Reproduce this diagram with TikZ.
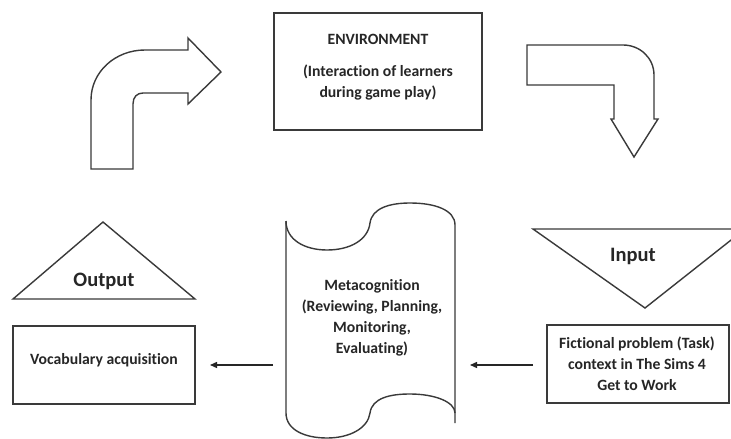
\documentclass[tikz,border=0pt]{standalone}
\usepackage{fontspec}
\setmainfont{Carlito}[RawFeature={-liga;-clig;-calt;-dlig}]
\usetikzlibrary{arrows.meta}
\definecolor{outl}{HTML}{3A3A3A}
\tikzset{
  shapeline/.style={draw=outl, line width=1.4pt, line join=miter},
  txt/.style={font=\fontsize{15.7}{21}\selectfont\bfseries, align=center, inner sep=0pt, text=black!85},
  bigtxt/.style={font=\fontsize{20.5}{24}\selectfont\bfseries, inner sep=0pt, text=black!85},
  conn/.style={draw=black!85, line width=1.4pt, -{Triangle[length=7pt,width=6pt]}}
}
\begin{document}
\begin{tikzpicture}[x=1pt,y=-1pt]
\useasboundingbox (0,0) rectangle (731,439);
\clip (0,0) rectangle (731,439);
\fill[white] (0,0) rectangle (731,439);

% bent arrow up-right
\draw[shapeline] (91,169) -- (133,169) -- (133,104)
  .. controls (133,97) and (137,93) .. (143,93) -- (188,93) -- (188,104)
  -- (221,72) -- (188,38) -- (188,50) -- (145,50)
  .. controls (115,50) and (91,72) .. (91,100) -- cycle;

% environment box
\node[shapeline, minimum width=208pt, minimum height=117pt, inner sep=0pt] (env) at (378,71.5) {};
\node[txt] (envtitle) at (378,39) {ENVIRONMENT};
\node[txt] (envtext) at (378,82.5) {(Interaction of learners\\during game play)};

% bent arrow down
\draw[shapeline] (527,45) -- (623,45)
  .. controls (640,45) and (654,58) .. (654,75) -- (654,119) -- (658,119)
  -- (634,157) -- (611,119) -- (614,119) -- (614,85) -- (527,85) -- cycle;

% output triangle
\draw[shapeline] (13,299) -- (195,299) -- (103,222) -- cycle;
\node[bigtxt] (outlabel) at (104,281) {Output};

% vocabulary box
\node[shapeline, minimum width=182pt, minimum height=78pt, inner sep=0pt] (vocab) at (104,365) {};
\node[txt] (vocabtext) at (104,360) {Vocabulary acquisition};

% metacognition scroll
\draw[shapeline] (286,221)
  .. controls (286,240) and (305,250) .. (327,250)
  .. controls (350,250) and (368,240) .. (370,223)
  .. controls (372,208) and (390,203) .. (410,203)
  .. controls (435,203) and (455,210) .. (455,225)
  -- (455,423);
\draw[shapeline] (286,221) -- (286,413)
  .. controls (286,430) and (305,438) .. (327,438)
  .. controls (350,438) and (368,428) .. (370,413)
  .. controls (372,398) and (390,394) .. (410,394)
  .. controls (435,394) and (455,402) .. (455,413);
\node[txt] (meta) at (372,317.5) {Metacognition\\(Reviewing, Planning,\\Monitoring,\\Evaluating)};

% input triangle
\draw[shapeline] (533,229) -- (745,229) -- (645,308) -- cycle;
\node[bigtxt] (inlabel) at (633,256) {Input};

% task box
\node[shapeline, minimum width=182pt, minimum height=78pt, inner sep=0pt] (task) at (638,364) {};
\node[txt] (tasktext) at (637,364) {Fictional problem (Task)\\context in The Sims 4\\Get to Work};

% connectors
\coordinate (a1s) at (533,365);
\coordinate (a1e) at (470,365);
\coordinate (a2s) at (273,365);
\coordinate (a2e) at (210,365);
\draw[conn] (a1s) -- (a1e);
\draw[conn] (a2s) -- (a2e);
\end{tikzpicture}
\end{document}
